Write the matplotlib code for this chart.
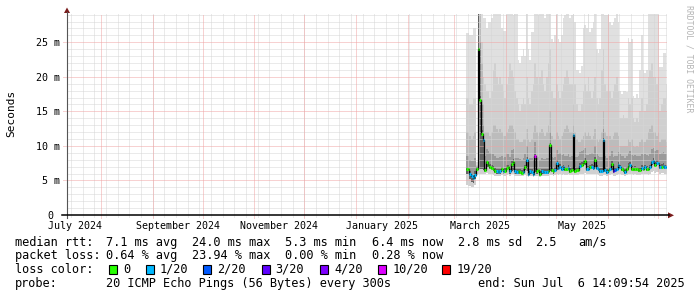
import numpy as np
import pandas as pd
import matplotlib
matplotlib.use("Agg")
import matplotlib.pyplot as plt
import matplotlib.dates as mdates
from matplotlib.patches import Rectangle, Polygon
from matplotlib.lines import Line2D

# ---------------- data ----------------
end_time = pd.Timestamp("2025-07-06 14:09:54")
start_time = end_time - pd.Timedelta(days=360)
data_start = "2025-03-08"

median_ms = [
    6.6, 6.6, 5.9, 5.6, 5.3, 5.8, 6.6, 24.0, 16.6, 11.7,
    10.8, 6.5, 7.6, 7.3, 7.0, 6.8, 6.7, 6.4, 6.3, 6.2,
    6.3, 6.6, 6.3, 6.4, 6.8, 6.9, 6.3, 7.4, 7.7, 6.3,
    6.2, 6.3, 6.2, 6.1, 6.2, 6.9, 8.0, 6.0, 6.3, 6.2,
    6.0, 8.6, 6.3, 6.5, 6.0, 6.3, 6.2, 6.2, 6.2, 6.3,
    10.1, 6.5, 6.3, 6.5, 7.5, 6.8, 7.0, 6.7, 6.9, 6.6,
    6.6, 6.8, 6.4, 6.5, 11.6, 6.4, 6.5, 6.5, 7.1, 7.2,
    7.5, 7.8, 6.7, 6.7, 6.9, 7.0, 6.8, 8.0, 6.8, 6.6,
    6.4, 6.4, 10.8, 6.5, 6.2, 6.5, 6.6, 7.4, 6.4, 6.5,
    6.6, 7.2, 6.9, 6.6, 6.5, 6.2, 6.6, 7.1, 7.2, 6.7,
    6.6, 6.7, 6.6, 6.5, 6.5, 6.8, 6.7, 6.9, 6.7, 6.6,
    6.9, 7.6, 7.8, 7.3, 7.5, 7.5, 6.9, 7.0, 7.1, 6.9,
    6.9,
]

lost_pings = [
    0, 0, 1, 1, 1, 1, 0, 0, 0, 0,
    1, 0, 0, 0, 0, 0, 0, 0, 1, 1,
    1, 0, 1, 0, 0, 0, 1, 0, 0, 1,
    1, 0, 0, 0, 1, 0, 1, 1, 1, 1,
    1, 10, 0, 0, 0, 1, 1, 1, 1, 0,
    0, 0, 0, 1, 1, 1, 1, 1, 1, 0,
    0, 1, 0, 0, 1, 0, 0, 0, 1, 0,
    0, 0, 1, 1, 0, 1, 1, 0, 1, 1,
    1, 1, 1, 1, 1, 0, 1, 0, 3, 2,
    1, 1, 1, 0, 0, 1, 0, 0, 1, 0,
    0, 0, 0, 0, 0, 1, 0, 1, 0, 0,
    1, 1, 1, 0, 1, 1, 1, 0, 1, 1,
    1,
]

# smoke: upper edges of the ping-distribution bands (outer -> inner)
smoke_top_1 = [
    26.3, 26.3, 26.0, 26.0, 27.0, 27.0, 7.6, 30, 30, 30,
    28.5, 28.5, 27.0, 28.0, 28.0, 28.5, 30, 30, 30, 30,
    30, 27.0, 26.7, 26.7, 30, 29.5, 30, 30, 29.0, 30,
    30, 22.5, 22.0, 23.0, 24.0, 23.0, 30, 24.0, 22.5, 26.5,
    26.5, 30, 30, 29.0, 30, 30, 30, 28.5, 30, 30,
    30, 25.5, 25.0, 26.0, 30, 25.5, 25.0, 26.0, 28.5, 29.0,
    30, 30, 28.5, 29.0, 30, 28.0, 21.0, 21.0, 20.5, 21.5,
    27.0, 27.5, 27.0, 30, 26.5, 27.0, 28.0, 30, 24.0, 23.5,
    24.0, 30, 30, 29.0, 29.0, 30, 28.0, 27.5, 28.0, 28.5,
    30, 28.0, 18.0, 17.5, 18.0, 18.0, 17.8, 25.6, 25.0, 25.5,
    17.2, 17.0, 17.5, 17.0, 21.0, 26.0, 21.0, 20.5, 21.0, 30,
    30, 30, 30, 30, 30, 30, 21.4, 21.4, 23.4, 23.4,
    19.0,
]
smoke_top_2 = [
    17, 17, 16, 16, 17, 17, 7.3, 30, 30, 25,
    20, 19, 18, 18, 17, 18, 21, 22, 20, 19,
    20, 19, 18, 17, 19, 20, 22, 21, 20, 18,
    17, 16, 15, 16, 17, 16, 20, 17, 16, 18,
    19, 22, 20, 19, 20, 21, 19, 18, 20, 22,
    24, 18, 17, 17, 19, 18, 17, 18, 19, 20,
    21, 20, 19, 19, 24, 19, 16, 15, 15, 16,
    18, 19, 18, 20, 18, 17, 18, 20, 17, 16,
    17, 21, 24, 19, 18, 19, 18, 17, 18, 19,
    20, 18, 14, 14, 14.5, 14, 14, 17, 16, 17,
    14, 13.5, 14, 13.5, 15, 17, 15, 15, 16, 20,
    21, 22, 20, 20, 19, 20, 15, 16, 17, 17,
    15,
]
smoke_top_3 = [
    12, 12, 11.5, 11, 11.5, 12, 7.1, 30, 30, 22,
    16, 12, 12, 12, 11.5, 12, 13, 13, 12.5, 12,
    12.5, 12, 11.5, 11.5, 12, 12.5, 13, 13, 12.5, 12,
    11, 11, 10.5, 10.5, 11, 11, 12.5, 11, 10.5, 11,
    12, 13, 12, 11.5, 12, 12.5, 12, 11.5, 12, 13,
    15, 11.5, 11, 11, 12, 11.5, 11, 11.5, 12, 12.5,
    13, 12.5, 12, 12, 16, 12, 11, 10.5, 10.5, 11,
    11.5, 12, 11.5, 12, 11.5, 11, 11.5, 12.5, 11, 10.5,
    11, 12, 15, 12, 11.5, 11.5, 11.5, 11, 11.5, 12,
    12, 11.5, 10, 10, 10, 10, 10, 11, 10.5, 11,
    10, 9.8, 10, 9.8, 10.5, 11, 10.5, 10.5, 11, 12,
    12.5, 13, 12, 12, 11.5, 12, 10.5, 11, 11, 11,
    10.5,
]
smoke_top_4 = [
    8.5, 8.5, 8.0, 7.8, 7.8, 8.2, 7.0, 30, 25, 16,
    13, 8.5, 9.5, 9.2, 9.0, 8.8, 8.8, 8.5, 8.3, 8.2,
    8.4, 8.6, 8.3, 8.4, 8.8, 8.9, 8.4, 9.4, 9.6, 8.3,
    8.2, 8.2, 8.1, 8.0, 8.2, 8.8, 10, 8.0, 8.2, 8.2,
    8.0, 10.5, 8.3, 8.4, 8.0, 8.2, 8.1, 8.1, 8.2, 8.3,
    12, 8.4, 8.2, 8.4, 9.4, 8.8, 9.0, 8.7, 8.9, 8.6,
    8.6, 8.8, 8.4, 8.5, 13, 8.4, 8.4, 8.5, 9.1, 9.2,
    9.4, 9.7, 8.7, 8.7, 8.9, 9.0, 8.8, 10, 8.8, 8.6,
    8.4, 8.4, 12.5, 8.5, 8.2, 8.5, 8.6, 9.3, 8.4, 8.5,
    8.6, 9.1, 8.9, 8.6, 8.5, 8.2, 8.6, 9.0, 9.2, 8.7,
    8.6, 8.7, 8.6, 8.5, 8.5, 8.8, 8.7, 8.9, 8.7, 8.6,
    8.9, 9.5, 9.7, 9.2, 9.4, 9.4, 8.9, 9.0, 9.1, 8.9,
    8.9,
]
smoke_top_5 = [
    7.0, 7.0, 6.4, 6.0, 5.8, 6.3, 6.9, 30, 17.2, 12.3,
    11.4, 7.0, 8.0, 7.7, 7.4, 7.2, 7.1, 6.8, 6.7, 6.6,
    6.7, 7.0, 6.7, 6.8, 7.2, 7.3, 6.7, 7.8, 8.1, 6.7,
    6.6, 6.7, 6.6, 6.5, 6.6, 7.3, 8.4, 6.4, 6.7, 6.6,
    6.4, 8.9, 6.7, 6.9, 6.4, 6.7, 6.6, 6.6, 6.6, 6.7,
    10.4, 6.9, 6.7, 6.9, 7.9, 7.2, 7.4, 7.1, 7.3, 7.0,
    7.0, 7.2, 6.8, 6.9, 11.9, 6.8, 6.9, 6.9, 7.5, 7.6,
    7.9, 8.2, 7.1, 7.1, 7.3, 7.4, 7.2, 8.4, 7.2, 7.0,
    6.8, 6.8, 11.1, 6.9, 6.6, 6.9, 7.0, 7.8, 6.8, 6.9,
    7.0, 7.6, 7.3, 7.0, 6.9, 6.6, 7.0, 7.5, 7.6, 7.1,
    7.0, 7.1, 7.0, 6.9, 6.9, 7.2, 7.1, 7.3, 7.1, 7.0,
    7.3, 8.0, 8.2, 7.7, 7.9, 7.9, 7.3, 7.4, 7.5, 7.3,
    7.3,
]
# smoke: lower edges
smoke_low_outer = [
    4.3, 4.2, 4.2, 4.1, 4.1, 4.3, 5.8, 6.0, 6.0, 6.0,
    6.0, 5.9, 6.1, 6.0, 5.9, 5.9, 5.8, 5.7, 5.7, 5.6,
    5.7, 5.8, 5.7, 5.7, 5.8, 5.9, 5.7, 5.9, 6.0, 5.7,
    5.6, 5.7, 5.6, 5.6, 5.6, 5.8, 5.7, 5.5, 5.6, 5.6,
    5.5, 5.7, 5.7, 5.7, 5.5, 5.6, 5.6, 5.6, 5.6, 5.7,
    5.8, 5.8, 5.7, 5.8, 5.9, 5.8, 5.9, 5.8, 5.9, 5.8,
    5.8, 5.9, 5.8, 5.8, 5.8, 5.8, 5.8, 5.8, 5.9, 5.9,
    6.0, 6.1, 5.9, 5.9, 5.9, 6.0, 5.9, 6.0, 5.9, 5.8,
    5.7, 5.7, 5.8, 5.8, 5.6, 5.8, 5.8, 5.9, 5.7, 5.7,
    5.8, 6.0, 5.9, 5.8, 5.8, 5.6, 5.8, 6.0, 6.0, 5.9,
    5.8, 5.9, 5.8, 5.8, 5.8, 5.9, 5.9, 6.0, 5.9, 5.8,
    5.9, 6.2, 6.3, 6.1, 6.2, 6.2, 6.0, 6.1, 6.1, 6.0,
    6.0,
]
smoke_low_inner = [
    6.0, 6.0, 5.2, 4.8, 4.6, 5.2, 6.3, 6.5, 6.6, 6.6,
    6.5, 6.2, 7.0, 6.9, 6.7, 6.5, 6.4, 6.1, 6.0, 5.9,
    6.0, 6.3, 6.0, 6.1, 6.5, 6.6, 6.0, 6.4, 6.5, 6.0,
    5.9, 6.0, 5.9, 5.8, 5.9, 6.5, 6.3, 5.7, 6.0, 5.9,
    5.7, 6.2, 6.0, 6.2, 5.7, 6.0, 5.9, 5.9, 5.9, 6.0,
    6.3, 6.2, 6.0, 6.2, 6.5, 6.5, 6.7, 6.4, 6.6, 6.3,
    6.3, 6.5, 6.1, 6.2, 6.3, 6.1, 6.2, 6.2, 6.8, 6.9,
    7.2, 7.3, 6.4, 6.4, 6.6, 6.7, 6.5, 6.9, 6.5, 6.3,
    6.1, 6.1, 6.3, 6.2, 5.9, 6.2, 6.3, 6.5, 6.1, 6.2,
    6.3, 6.9, 6.6, 6.3, 6.2, 5.9, 6.3, 6.8, 6.9, 6.4,
    6.3, 6.4, 6.3, 6.2, 6.2, 6.5, 6.4, 6.6, 6.4, 6.3,
    6.6, 7.3, 7.4, 7.0, 7.2, 7.2, 6.6, 6.7, 6.8, 6.6,
    6.6,
]

y_ticks = [0, 5, 10, 15, 20, 25]
y_tick_labels = ["0 ", "5 m", "10 m", "15 m", "20 m", "25 m"]
x_label_months = ["2024-07", "2024-09", "2024-11", "2025-01", "2025-03", "2025-05"]
x_labels = ["July 2024", "September 2024", "November 2024", "January 2025", "March 2025", "May 2025"]

loss_levels = [0, 1, 2, 3, 4, 10, 19]
loss_names = ["0", "1/20", "2/20", "3/20", "4/20", "10/20", "19/20"]
loss_colors = ["#26ff00", "#00b8ff", "#0059ff", "#5e00ff", "#7e00ff", "#dd00ff", "#ff0000"]

smoke_colors = ["#e0e0e0", "#d0d0d0", "#bcbcbc", "#9a9a9a", "#626262"]

line_median = "median rtt:"
line_median_vals = ["7.1 ms avg", "24.0 ms max", "5.3 ms min", "6.4 ms now", "2.8 ms sd", "2.5", "am/s"]
line_loss = "packet loss:"
line_loss_vals = ["0.64 % avg", "23.94 % max", "0.00 % min", "0.28 % now"]
probe_text = "20 ICMP Echo Pings (56 Bytes) every 300s"
end_text = "end: Sun Jul  6 14:09:54 2025"

# ---------------- figure ----------------
W, H = 697, 297
fig = plt.figure(figsize=(W / 100, H / 100), dpi=100)
fig.patch.set_facecolor("white")
L, R, T, B = 67, 667, 14, 215
y_top = (B - T) / 6.908
ax = fig.add_axes([L / W, 1 - B / H, (R - L) / W, (B - T) / H])
ax.set_facecolor("white")
x0 = mdates.date2num(start_time)
x1 = mdates.date2num(end_time)
ax.set_xlim(x0, x1)
ax.set_ylim(0, y_top)
for s in ax.spines.values():
    s.set_visible(False)

n = len(median_ms)
edges = mdates.date2num(pd.date_range(data_start, periods=n + 1, freq="D"))
med = np.array(median_ms)
lows = [smoke_low_outer, smoke_low_outer, smoke_low_inner, smoke_low_inner, smoke_low_inner]
tops = [smoke_top_1, smoke_top_2, smoke_top_3, smoke_top_4, smoke_top_5]
for lo, hi, c in zip(lows, tops, smoke_colors):
    ax.stairs(np.array(hi), edges, baseline=np.array(lo), fill=True, color=c,
              lw=0, antialiased=False, zorder=1)

# grid
minor_c = "#d6d6d6"
major_c = "#f0a4a4"
dot = (0, (1, 1))
gkw = dict(lw=0.72, ls=dot, antialiased=True)
for yv in np.arange(1, y_top, 1.0):
    if yv % 5 != 0:
        ax.axhline(yv, color=minor_c, zorder=2, **gkw)
for yv in y_ticks[1:]:
    ax.axhline(yv, xmin=-0.007, color=major_c, zorder=2.1, clip_on=False, **gkw)
weeks = pd.date_range(start_time.normalize(), end_time, freq="W-SUN")
months = pd.date_range(start_time.normalize(), end_time, freq="MS")
for wk in weeks:
    ax.axvline(mdates.date2num(wk), ymin=-0.012, color=minor_c, zorder=2, clip_on=False, **gkw)
for mo in months:
    ax.axvline(mdates.date2num(mo), ymin=-0.015, color=major_c, zorder=2.1, clip_on=False, **gkw)

# median line + loss colours
ax.stairs(med, edges, baseline=None, color="black", lw=0.9, zorder=3)
lp = np.array(lost_pings)
for lvl, c in zip(loss_levels, loss_colors):
    m = lp == lvl
    if m.any():
        ax.hlines(med[m], edges[:-1][m], edges[1:][m], colors=c, lw=2.2,
                  capstyle="butt", zorder=4)

# ticks
mono = "DejaVu Sans Mono"
ax.set_yticks(y_ticks)
ax.set_yticklabels(y_tick_labels, fontsize=7.2, family=mono)
label_pos = []
for m0 in x_label_months:
    a = pd.Timestamp(m0 + "-01")
    b = a + pd.offsets.MonthBegin(1)
    label_pos.append(mdates.date2num(a + (b - a) / 2))
ax.set_xticks(label_pos)
ax.set_xticklabels(x_labels, fontsize=7.2, family=mono)
ax.tick_params(axis="both", length=0, colors="black")
ax.tick_params(axis="y", pad=5.2)
ax.tick_params(axis="x", pad=4.2)

# axes lines and arrows (figure pixel coords)
def fx(x):
    return x / W


def fy(y):
    return 1 - y / H


fig.add_artist(Line2D([fx(67), fx(67)], [fy(218), fy(12)], color="#555555", lw=0.8))
fig.add_artist(Line2D([fx(62), fx(669)], [fy(215.3), fy(215.3)], color="black", lw=1.1))
arrow_c = "#7a1c1c"
fig.add_artist(Polygon([[fx(67), fy(7.5)], [fx(64), fy(13)], [fx(70), fy(13)]],
                       closed=True, color=arrow_c, lw=0))
fig.add_artist(Polygon([[fx(674), fy(215.3)], [fx(668), fy(212.3)], [fx(668), fy(218.3)]],
                       closed=True, color=arrow_c, lw=0))

# axis title and watermark
fig.text(fx(11), fy(113), "Seconds", rotation=90, ha="center", va="center",
         fontsize=8.0, family=mono)
fig.text(fx(688.5), fy(5), "RRDTOOL / TOBI OETIKER", rotation=270, ha="center", va="top",
         fontsize=5.9, family=mono, color="#b4b4b4")

# legend
fs = 8.6
def txt(x, y, s):
    fig.text(fx(x - 0.8), fy(y), s, ha="left", va="baseline", fontsize=fs, family=mono)

base1, base2, base3, base4 = 245.6, 259.3, 273.0, 286.7
txt(16, base1, line_median)
for xp, s in zip([107.3, 193.3, 286.0, 372.3, 458.3, 536.0, 579.3], line_median_vals):
    txt(xp, base1, s)
txt(16, base2, line_loss)
for xp, s in zip([107.3, 192.7, 286.0, 372.3], line_loss_vals):
    txt(xp, base2, s)
txt(16, base3, "loss color:")
box_x = [109, 146, 203.3, 261.7, 320, 378.3, 442.3]
for bx, c, name in zip(box_x, loss_colors, loss_names):
    fig.add_artist(Rectangle((fx(bx), fy(274)), 8 / W, 9 / H, facecolor=c,
                             edgecolor="black", lw=0.8))
    txt(bx + 14.8, base3, name)
txt(16, base4, "probe:")
txt(107.3, base4, probe_text)
txt(478.3, base4, end_text)

fig.savefig("out.png", dpi=100, facecolor="white")
